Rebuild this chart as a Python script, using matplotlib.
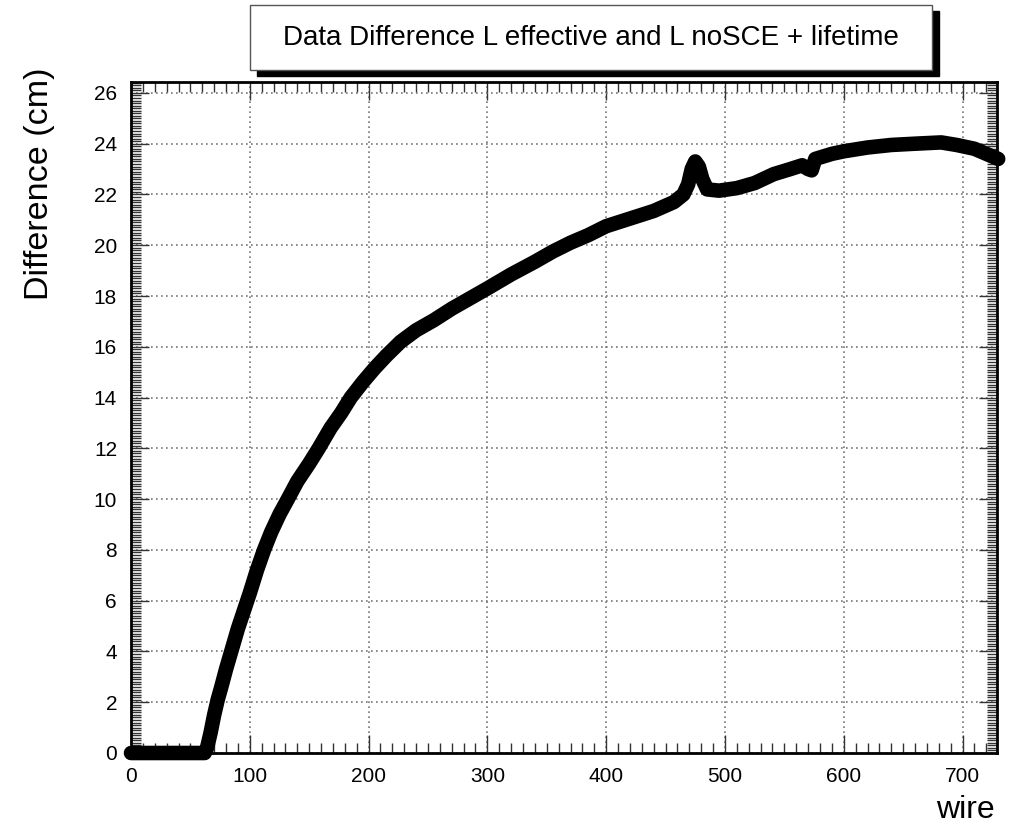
import matplotlib
matplotlib.use("Agg")
import matplotlib.pyplot as plt
from matplotlib.patches import Rectangle
from matplotlib.ticker import MultipleLocator

plt.rcParams['font.family'] = ['Liberation Sans', 'DejaVu Sans']

# values
wire = [0, 20, 40, 62, 64, 67, 70, 73, 76, 80, 85, 90, 95, 100, 106, 112,
        118, 125, 132, 140, 150, 158, 168, 177, 185, 195, 205, 215, 227,
        240, 255, 270, 285, 300, 320, 340, 355, 370, 385, 400, 420, 440,
        457, 465, 469, 472, 475, 478, 481, 485, 495, 510, 525, 541, 555,
        565, 570, 573, 576, 590, 600, 620, 640, 660, 682, 695, 710, 720, 730]
difference = [0, 0, 0, 0, 0.2, 0.8, 1.5, 2.1, 2.6, 3.3, 4.1, 4.9, 5.6, 6.3,
              7.2, 8.0, 8.7, 9.4, 10.0, 10.7, 11.4, 12.0, 12.8, 13.4, 14.0,
              14.6, 15.15, 15.65, 16.2, 16.65, 17.05, 17.5, 17.9, 18.3, 18.85,
              19.35, 19.75, 20.1, 20.4, 20.75, 21.05, 21.35, 21.7, 22.0, 22.4,
              23.0, 23.3, 23.1, 22.6, 22.2, 22.15, 22.25, 22.45, 22.8, 23.0,
              23.15, 23.0, 22.95, 23.4, 23.6, 23.7, 23.85, 23.95, 24.0, 24.05,
              23.95, 23.8, 23.6, 23.4]

title = "Data Difference L effective and L noSCE + lifetime"

W, H = 1022, 833
fig = plt.figure(figsize=(W / 100, H / 100), dpi=100)
ax = fig.add_axes([131 / W, 1 - 753 / H, (997 - 131) / W, (753 - 82) / H])

ax.plot(wire, difference, color='black', lw=10.5, solid_capstyle='round',
        solid_joinstyle='round', clip_on=False, zorder=5)

ax.set_xlim(0, 729)
ax.set_ylim(0, 26.43)
ax.xaxis.set_major_locator(MultipleLocator(100))
ax.xaxis.set_minor_locator(MultipleLocator(10))
ax.yaxis.set_major_locator(MultipleLocator(2))
ax.yaxis.set_minor_locator(MultipleLocator(0.1))

ax.grid(True, which='major', color='#777777', linestyle=(0, (1, 2)), lw=1.2)
ax.tick_params(which='both', direction='in', top=True, right=True,
               labelsize=15, color='#333333', width=1)
ax.tick_params(which='major', length=13, pad=10)
ax.tick_params(which='minor', length=7)
for s in ax.spines.values():
    s.set_linewidth(2)

fig.text(995 / W, 1 - 810 / H, "wire", ha='right', va='center', fontsize=23)
fig.text(40 / W, 1 - 68 / H, "Difference (cm)", ha='center', va='top',
         rotation=90, fontsize=24.5)

# title box with shadow, ROOT style
fig.patches.append(Rectangle((257 / W, 1 - 76 / H), (932 - 250) / W, (70 - 5) / H,
                             transform=fig.transFigure, facecolor='black',
                             edgecolor='black', zorder=1))
fig.patches.append(Rectangle((250 / W, 1 - 70 / H), (932 - 250) / W, (70 - 5) / H,
                             transform=fig.transFigure, facecolor='white',
                             edgecolor='#555555', lw=1, zorder=2))
fig.text(591 / W, 1 - 38 / H, title, ha='center', va='center', fontsize=20,
         zorder=3)

fig.savefig("out.png", dpi=100)
